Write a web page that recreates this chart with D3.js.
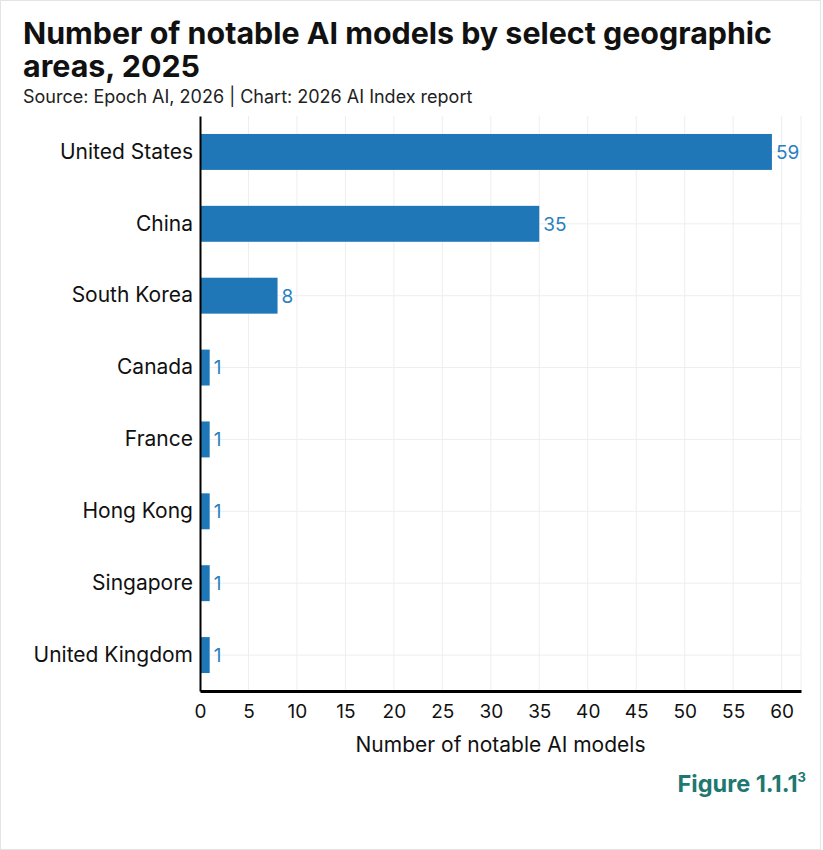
<!DOCTYPE html>
<html>
<head>
<meta charset="utf-8">
<script src="https://cdn.jsdelivr.net/npm/d3@7"></script>
<style>
  body { margin: 0; background: #fff; }
  text { font-family: Inter, "Noto Sans", sans-serif; }
</style>
</head>
<body>
<div id="chart"></div>
<script>
var w = 823;
var h = 850;

var countries = ["United States", "China", "South Korea", "Canada", "France", "Hong Kong", "Singapore", "United Kingdom"];
var models = [59, 35, 8, 1, 1, 1, 1, 1];
var xTicks = [0, 5, 10, 15, 20, 25, 30, 35, 40, 45, 50, 55, 60];

var plotLeft = 200, plotRight = 801, plotTop = 116, plotBottom = 691;

var x = d3.scaleLinear()
        .domain([0, 62])
        .range([plotLeft, plotRight]);

var y = d3.scaleBand()
        .domain(countries)
        .range([plotTop, plotBottom])
        .paddingInner(0.5)
        .paddingOuter(0.25);

var svg = d3.select("#chart")
      .append("svg")
      .attr("width", w)
      .attr("height", h);

// border
svg.append("rect")
   .attr("x", 0.5).attr("y", 0.5)
   .attr("width", w - 3).attr("height", h - 1)
   .attr("fill", "none")
   .attr("stroke", "#e4e4e4");

// titles
svg.append("text")
   .attr("x", 23).attr("y", 44)
   .attr("font-size", 30.4).attr("font-weight", 700).attr("fill", "#111")
   .text("Number of notable AI models by select geographic");
svg.append("text")
   .attr("x", 23).attr("y", 77)
   .attr("font-size", 30.4).attr("font-weight", 700).attr("fill", "#111")
   .text("areas, 2025");
svg.append("text")
   .attr("x", 23).attr("y", 103)
   .attr("font-size", 18).attr("fill", "#222")
   .text("Source: Epoch AI, 2026 | Chart: 2026 AI Index report");

// grid
svg.append("g")
   .selectAll("line")
   .data(xTicks.slice(1).concat([62]))
   .enter()
   .append("line")
   .attr("x1", function(d) { return x(d); })
   .attr("x2", function(d) { return x(d); })
   .attr("y1", plotTop)
   .attr("y2", plotBottom)
   .attr("stroke", "#eeeeee");

svg.append("g")
   .selectAll("line")
   .data(countries)
   .enter()
   .append("line")
   .attr("x1", plotLeft)
   .attr("x2", plotRight)
   .attr("y1", function(d) { return y(d) + y.bandwidth() / 2; })
   .attr("y2", function(d) { return y(d) + y.bandwidth() / 2; })
   .attr("stroke", "#eeeeee");

// bars
svg.selectAll("rect.bar")
   .data(models)
   .enter()
   .append("rect")
   .attr("class", "bar")
   .attr("x", x(0) + 1)
   .attr("y", function(d, i) { return y(countries[i]); })
   .attr("width", function(d) { return x(d) - x(0) - 1; })
   .attr("height", y.bandwidth())
   .attr("fill", "#1f77b8");

// value labels
svg.selectAll("text.val")
   .data(models)
   .enter()
   .append("text")
   .attr("class", "val")
   .attr("x", function(d) { return x(d) + 4; })
   .attr("y", function(d, i) { return y(countries[i]) + y.bandwidth() / 2; })
   .attr("dy", "0.36em")
   .attr("font-size", 19)
   .attr("fill", "#2a7fc0")
   .text(function(d) { return d; });

// y axis
var yAxis = svg.append("g")
   .attr("transform", "translate(" + plotLeft + ",0)")
   .call(d3.axisLeft(y).tickSize(0).tickPadding(7));
yAxis.select(".domain").attr("stroke", "#000").attr("stroke-width", 2);
yAxis.selectAll("text").attr("font-size", 21).attr("fill", "#111");

// x axis
var xAxis = svg.append("g")
   .attr("transform", "translate(0," + plotBottom + ")")
   .call(d3.axisBottom(x).tickValues(xTicks).tickSize(0).tickPadding(14));
xAxis.select(".domain").attr("stroke", "#000").attr("stroke-width", 3);
xAxis.selectAll("text").attr("font-size", 19).attr("fill", "#111");

svg.append("text")
   .attr("x", (plotLeft + plotRight) / 2)
   .attr("y", 752)
   .attr("text-anchor", "middle")
   .attr("font-size", 21)
   .attr("fill", "#111")
   .text("Number of notable AI models");

// figure label
var fig = svg.append("text")
   .attr("x", 806)
   .attr("y", 792)
   .attr("text-anchor", "end")
   .attr("font-size", 23.5)
   .attr("font-weight", 700)
   .attr("fill", "#1e7872");
fig.append("tspan").text("Figure 1.1.1");
fig.append("tspan").attr("font-size", 13).attr("dy", -10).text("3");
</script>
</body>
</html>
